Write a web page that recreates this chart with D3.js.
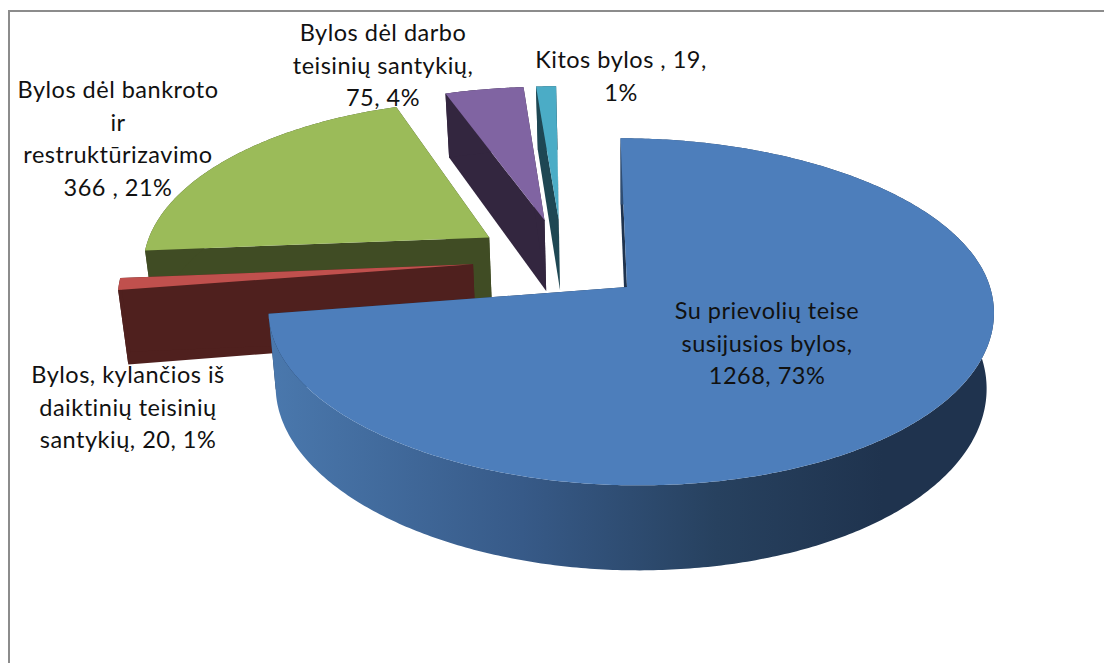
<!DOCTYPE html>
<html>
<head>
<meta charset="utf-8">
<script src="https://cdn.jsdelivr.net/npm/d3@7"></script>
<style>
  html, body { margin: 0; padding: 0; background: #fff; }
  svg { display: block; }
  text { font-family: Lato, "Open Sans", sans-serif; font-size: 23.5px; letter-spacing: 0.5px; font-variant-ligatures: none; fill: #111; text-anchor: middle; }
</style>
</head>
<body>
<div id="container"></div>
<script>
// chart data, clockwise from 12 o'clock
const categories = [
  'Su prievolių teise susijusios bylos',
  'Bylos, kylančios iš daiktinių teisinių santykių',
  'Bylos dėl bankroto ir restruktūrizavimo',
  'Bylos dėl darbo teisinių santykių',
  'Kitos bylos'
];
const values = [1268, 20, 366, 75, 19];
const labelLines = [
  ['Su prievolių teise', 'susijusios bylos,', '1268, 73%'],
  ['Bylos, kylančios iš', 'daiktinių teisinių', 'santykių, 20, 1%'],
  ['Bylos dėl bankroto', 'ir', 'restruktūrizavimo', '366 , 21%'],
  ['Bylos dėl darbo', 'teisinių santykių,', '75, 4%'],
  ['Kitos bylos , 19,', '1%']
];

// styles and label anchors, same order as categories
const topColors = ['#4d7ebb', '#c0504d', '#9bbb59', '#8064a2', '#4bacc6'];
const sideColors = ['url(#rimBlue)', '#4f201e', '#404c24', '#33263f', '#1e4753'];
const labelAnchors = [[767, 319], [128, 383], [118, 98], [383, 41], [621, 68]];
const lineHeight = 32.5;

const width = 1104;
const height = 663;

// projection of the tilted disc, origin is the tip of the big slice
const cx = 627;
const cy = 287;
const rxRight = 363;
const rxLeft = 355;
const ry = 170;
const perspective = 0.143;
const lean = -8.5;
const explodeU = 0.252;
const explodeV = 0.255;
const depth = 74.3;

const xRight = d3.scaleLinear().domain([0, 1]).range([cx, cx + rxRight]);
const xLeft = d3.scaleLinear().domain([-1, 0]).range([cx - rxLeft, cx]);
const yDisc = d3.scaleLinear().domain([0, 1]).range([cy, cy - ry]);

const project = (u, v) => {
  const s = 1 / (1 + perspective * v);
  const vs = v * s;
  const x = (u < 0 ? xLeft(u * s) : xRight(u * s)) + lean * vs * Math.abs(vs);
  return [x, yDisc(vs)];
};

// same point on the bottom face of the disc
const lower = ([x, y]) => [
  cx + (x - cx) * 0.98,
  cy + (y - cy) * 1.054 + depth
];

const pie = d3.pie().sort(null).value(d => d).startAngle(0).endAngle(2 * Math.PI);
const arcs = pie(values);

// every slice moves out along its own middle angle, measured from the common centre
const mid0 = (arcs[0].startAngle + arcs[0].endAngle) / 2;
const slices = arcs.map(a => {
  const mid = (a.startAngle + a.endAngle) / 2;
  const ou = explodeU * (Math.sin(mid) - Math.sin(mid0));
  const ov = explodeV * (Math.cos(mid) - Math.cos(mid0));
  const n = Math.max(2, Math.ceil((a.endAngle - a.startAngle) * 90));
  const rim = d3.range(n + 1).map(i => {
    const t = a.startAngle + (a.endAngle - a.startAngle) * i / n;
    return project(ou + Math.sin(t), ov + Math.cos(t));
  });
  return { tip: project(ou, ov), rim };
});

const line = d3.line();

const svg = d3.select('#container')
  .append('svg')
  .attr('width', width)
  .attr('height', height);

// gradient on the side of the big slice
const gradient = svg.append('defs')
  .append('linearGradient')
  .attr('id', 'rimBlue')
  .attr('gradientUnits', 'userSpaceOnUse')
  .attr('x1', 270).attr('x2', 990).attr('y1', 0).attr('y2', 0);
gradient.append('stop').attr('offset', '0').attr('stop-color', '#4a78ad');
gradient.append('stop').attr('offset', '0.35').attr('stop-color', '#375a88');
gradient.append('stop').attr('offset', '0.62').attr('stop-color', '#27415f');
gradient.append('stop').attr('offset', '0.85').attr('stop-color', '#1f334e');
gradient.append('stop').attr('offset', '1').attr('stop-color', '#1f334e');

// frame, open on the right and at the bottom
svg.append('path')
  .attr('d', line([[9, height], [9, 11], [width, 11]]))
  .attr('fill', 'none')
  .attr('stroke', '#8c8c8c')
  .attr('stroke-width', 2);

// back slices first, the big one goes on top
const order = [4, 3, 2, 1, 0];
const groups = svg.selectAll('g.slice')
  .data(order)
  .enter()
  .append('g')
  .attr('class', 'slice');

groups.each(function (i) {
  const g = d3.select(this);
  const { tip, rim } = slices[i];
  const first = rim[0];
  const last = rim[rim.length - 1];
  const side = sideColors[i];
  const walls = [
    [tip, first, lower(first), lower(tip)],
    [tip, last, lower(last), lower(tip)],
    rim.concat(rim.map(lower).reverse())
  ];
  g.selectAll('path.side')
    .data(walls)
    .enter()
    .append('path')
    .attr('class', 'side')
    .attr('d', d => line(d) + 'Z')
    .attr('fill', (d, k) => (i === 0 && k < 2 ? '#1f334e' : side));
  g.append('path')
    .attr('d', line([tip].concat(rim)) + 'Z')
    .attr('fill', topColors[i]);
});

// data labels
labelLines.forEach((lines, i) => {
  const [x, y] = labelAnchors[i];
  const text = svg.append('text').attr('x', x).attr('y', y);
  lines.forEach((l, k) => {
    text.append('tspan')
      .attr('x', x)
      .attr('y', y + k * lineHeight)
      .text(l);
  });
});
</script>
</body>
</html>
